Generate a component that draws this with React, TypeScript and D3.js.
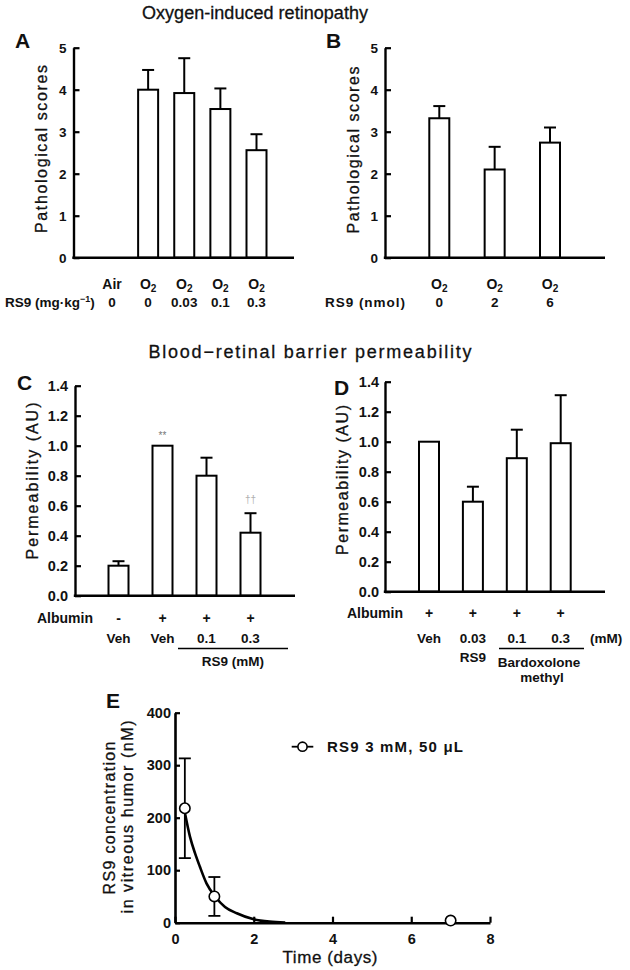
import React, { useEffect, useRef } from "react";
import * as d3 from "d3";

const FONT = "'Liberation Sans', Arial, Helvetica, sans-serif";

// A - oxygen-induced retinopathy, RS9 mg/kg
const aGas = ["Air", "O2", "O2", "O2", "O2"];
const aDose = ["0", "0", "0.03", "0.1", "0.3"];
const aMean: (number | null)[] = [null, 4.0, 3.92, 3.54, 2.56];
const aErr: (number | null)[] = [null, 0.47, 0.83, 0.49, 0.38];

// B - oxygen-induced retinopathy, RS9 nmol
const bGas = ["O2", "O2", "O2"];
const bDose = ["0", "2", "6"];
const bMean = [3.32, 2.1, 2.74];
const bErr = [0.29, 0.54, 0.36];

const scoreTicks = [0, 1, 2, 3, 4, 5];

// C - permeability, RS9
const cAlbumin = ["-", "+", "+", "+"];
const cTreat = ["Veh", "Veh", "0.1", "0.3"];
const cMean = [0.2, 1.0, 0.8, 0.42];
const cErr = [0.03, 0, 0.12, 0.13];
const cMark = ["", "**", "", "††"];

// D - permeability, RS9 vs bardoxolone methyl
const dAlbumin = ["+", "+", "+", "+"];
const dTreat = ["Veh", "0.03", "0.1", "0.3"];
const dMean = [1.0, 0.6, 0.89, 0.99];
const dErr = [0, 0.1, 0.19, 0.32];

const permTicks = [0, 0.2, 0.4, 0.6, 0.8, 1.0, 1.2, 1.4];

// E - vitreous concentration
const eDay = [0.25, 1, 7];
const eConc = [218, 50, 4];
const eSd = [95, 37, 0];
const eFitDay = [0.25, 0.38, 0.51, 0.63, 0.8, 1.02, 1.27, 1.57, 2.0, 2.4, 2.8];
const eFitConc = [210, 164, 132, 107, 75, 50, 30, 18, 6.5, 2, 0.5];
const eTickX = [0, 2, 4, 6, 8];
const eTickY = [0, 100, 200, 300, 400];

type Sel = d3.Selection<SVGGElement, unknown, null, undefined>;

type BarCfg = {
  axisX: number;
  xEnd: number;
  y0: number;
  yTop: number;
  max: number;
  first: number;
  last: number;
  means: (number | null)[];
  errs: (number | null)[];
  ticks: number[];
  fmt: (v: number) => string;
  tickFont: number;
  pad: number;
};

const BAR_W = 20;
const CAP_W = 12;

function barPanel(g: Sel, p: BarCfg) {
  const y = d3.scaleLinear().domain([0, p.max]).range([p.y0, p.yTop]);
  const x = d3
    .scalePoint<number>()
    .domain(d3.range(p.means.length))
    .range([p.first, p.last]);

  p.means.forEach((m, i) => {
    if (m == null) return;
    const cx = x(i)!;
    const e = p.errs[i] ?? 0;
    if (e > 0) {
      g.append("line")
        .attr("x1", cx).attr("x2", cx)
        .attr("y1", y(m)).attr("y2", y(m + e))
        .attr("stroke", "#000").attr("stroke-width", 2);
      g.append("line")
        .attr("x1", cx - CAP_W / 2).attr("x2", cx + CAP_W / 2)
        .attr("y1", y(m + e)).attr("y2", y(m + e))
        .attr("stroke", "#000").attr("stroke-width", 2);
    }
    g.append("rect")
      .attr("x", cx - BAR_W / 2)
      .attr("y", y(m))
      .attr("width", BAR_W)
      .attr("height", p.y0 - y(m))
      .attr("fill", "#fff")
      .attr("stroke", "#000")
      .attr("stroke-width", 2);
  });

  const ax = g
    .append("g")
    .attr("transform", `translate(${p.axisX},0)`)
    .call(
      d3.axisLeft(y)
        .tickValues(p.ticks)
        .tickSize(-6)
        .tickSizeOuter(0)
        .tickPadding(p.pad)
        .tickFormat((d) => p.fmt(d as number))
    );
  ax.attr("font-family", null).attr("font-size", null);
  ax.select(".domain").attr("stroke", "#000").attr("stroke-width", 2.4);
  ax.selectAll(".tick line").attr("stroke", "#000").attr("stroke-width", 2.2);
  ax.selectAll(".tick text")
    .attr("font-size", p.tickFont)
    .attr("font-weight", "bold")
    .attr("fill", "#111");

  g.append("line")
    .attr("x1", p.axisX - 1.2).attr("x2", p.xEnd)
    .attr("y1", p.y0).attr("y2", p.y0)
    .attr("stroke", "#000").attr("stroke-width", 2.4);

  return x;
}

function label(
  g: Sel,
  x: number,
  y: number,
  s: string,
  size: number,
  opts: { anchor?: string; bold?: boolean; fill?: string; len?: number } = {}
) {
  const t = g
    .append("text")
    .attr("x", x)
    .attr("y", y)
    .attr("font-size", size)
    .attr("text-anchor", opts.anchor ?? "middle")
    .attr("font-weight", opts.bold ? "bold" : "normal")
    .attr("fill", opts.fill ?? "#111")
    .text(s);
  if (!opts.bold && !opts.fill) t.attr("stroke", "#111").attr("stroke-width", 0.3);
  if (opts.len) t.attr("textLength", opts.len).attr("lengthAdjust", "spacing");
  return t;
}

function vLabel(g: Sel, cx: number, cy: number, s: string, size: number, len: number) {
  g.append("text")
    .attr("transform", `translate(${cx},${cy}) rotate(-90)`)
    .attr("text-anchor", "middle")
    .attr("dominant-baseline", "central")
    .attr("font-size", size)
    .attr("fill", "#111")
    .attr("stroke", "#111")
    .attr("stroke-width", 0.3)
    .attr("textLength", len)
    .attr("lengthAdjust", "spacing")
    .text(s);
}

function gasLabel(g: Sel, x: number, y: number, s: string, size: number) {
  const t = g
    .append("text")
    .attr("x", x)
    .attr("y", y)
    .attr("font-size", size)
    .attr("font-weight", "bold")
    .attr("text-anchor", "middle")
    .attr("fill", "#111");
  if (s === "O2") {
    t.append("tspan").text("O");
    t.append("tspan").attr("font-size", size * 0.72).attr("dy", 3).text("2");
  } else {
    t.text(s);
  }
}

export default function App() {
  const ref = useRef<SVGSVGElement>(null);

  useEffect(() => {
    const svg = d3.select(ref.current);
    svg.selectAll("*").remove();
    const root = svg.append("g").attr("font-family", FONT) as unknown as Sel;

    // titles
    label(root, 255, 19, "Oxygen-induced retinopathy", 18, { len: 226 });
    label(root, 310, 358, "Blood\u2212retinal barrier permeability", 18, { len: 323 });

    // panel letters
    label(root, 15, 48, "A", 21, { anchor: "start", bold: true });
    label(root, 326, 48, "B", 21, { anchor: "start", bold: true });
    label(root, 17, 390, "C", 21, { anchor: "start", bold: true });
    label(root, 334, 395, "D", 21, { anchor: "start", bold: true });
    label(root, 106, 708, "E", 21, { anchor: "start", bold: true });

    // ---- A
    const xA = barPanel(root, {
      axisX: 73.5, xEnd: 294, y0: 257.7, yTop: 47.7, max: 5,
      first: 112, last: 256.5, means: aMean, errs: aErr,
      ticks: scoreTicks, fmt: (v) => String(v), tickFont: 13.5, pad: 7,
    });
    vLabel(root, 41.5, 149, "Pathological scores", 16, 168);
    aGas.forEach((s, i) => gasLabel(root, xA(i)!, 288.5, s, 14));
    aDose.forEach((s, i) => label(root, xA(i)!, 307, s, 13.5, { bold: true }));
    const rsA = root
      .append("text")
      .attr("x", 5).attr("y", 307)
      .attr("font-size", 13.5).attr("font-weight", "bold").attr("fill", "#111");
    rsA.append("tspan").text("RS9 (mg\u00b7kg");
    rsA.append("tspan").attr("font-size", 9).attr("dy", -5).text("\u22121");
    rsA.append("tspan").attr("dy", 5).text(")");

    // ---- B
    const xB = barPanel(root, {
      axisX: 385, xEnd: 605, y0: 257.7, yTop: 47.7, max: 5,
      first: 439.3, last: 550, means: bMean, errs: bErr,
      ticks: scoreTicks, fmt: (v) => String(v), tickFont: 13.5, pad: 7,
    });
    vLabel(root, 353, 150, "Pathological scores", 16, 167);
    bGas.forEach((s, i) => gasLabel(root, xB(i)!, 288.5, s, 14));
    bDose.forEach((s, i) => label(root, xB(i)!, 307, s, 13.5, { bold: true }));
    label(root, 325, 307, "RS9 (nmol)", 13.5, { anchor: "start", bold: true, len: 80 });

    // ---- C
    const fmt1 = d3.format(".1f");
    const yC = d3.scaleLinear().domain([0, 1.4]).range([595.7, 385.7]);
    const xC = barPanel(root, {
      axisX: 75, xEnd: 295, y0: 595.7, yTop: 385.7, max: 1.4,
      first: 118.5, last: 250.5, means: cMean, errs: cErr,
      ticks: permTicks, fmt: fmt1, tickFont: 14.5, pad: 7,
    });
    vLabel(root, 32, 481, "Permeability (AU)", 16, 157);
    cMark.forEach((s, i) => {
      if (!s) return;
      const top = cMean[i] + cErr[i];
      label(root, xC(i)!, yC(top) - (cErr[i] > 0 ? 10 : 7), s, 10, {
        fill: s === "**" ? "#777" : "#b0b0b0",
      });
    });
    label(root, 93, 623.3, "Albumin", 14, { anchor: "end", bold: true });
    cAlbumin.forEach((s, i) => label(root, xC(i)!, 623.3, s, 14, { bold: true }));
    cTreat.forEach((s, i) => label(root, xC(i)!, 642.7, s, 13.5, { bold: true }));
    root.append("line")
      .attr("x1", 178).attr("x2", 288).attr("y1", 648.5).attr("y2", 648.5)
      .attr("stroke", "#000").attr("stroke-width", 1.6);
    label(root, 233, 666, "RS9 (mM)", 13.5, { bold: true });

    // ---- D
    const xD = barPanel(root, {
      axisX: 385, xEnd: 605, y0: 591.7, yTop: 381.7, max: 1.4,
      first: 429, last: 560.7, means: dMean, errs: dErr,
      ticks: permTicks, fmt: fmt1, tickFont: 14.5, pad: 6,
    });
    vLabel(root, 342, 480, "Permeability (AU)", 16, 150);
    label(root, 403, 618.3, "Albumin", 14, { anchor: "end", bold: true });
    dAlbumin.forEach((s, i) => label(root, xD(i)!, 618.3, s, 14, { bold: true }));
    dTreat.forEach((s, i) => label(root, xD(i)!, 643.3, s, 13.5, { bold: true }));
    label(root, 590, 643.3, "(mM)", 13.5, { anchor: "start", bold: true });
    root.append("line")
      .attr("x1", 499).attr("x2", 584).attr("y1", 648.5).attr("y2", 648.5)
      .attr("stroke", "#000").attr("stroke-width", 1.6);
    label(root, xD(1)!, 662, "RS9", 13.5, { bold: true });
    label(root, 539, 667, "Bardoxolone", 13.5, { bold: true });
    label(root, 542, 682, "methyl", 13.5, { bold: true });

    // ---- E
    const xE = d3.scaleLinear().domain([0, 8]).range([175, 490]);
    const yE = d3.scaleLinear().domain([0, 400]).range([922.7, 712.7]);
    const gE = root.append("g") as unknown as Sel;

    const fitPts = eFitDay.map((d, i) => [d, eFitConc[i]] as [number, number]);
    gE.append("path")
      .attr("d", d3.line<[number, number]>()
        .x((d) => xE(d[0]))
        .y((d) => yE(d[1]))
        .curve(d3.curveMonotoneX)(fitPts))
      .attr("fill", "none")
      .attr("stroke", "#000")
      .attr("stroke-width", 2.6);

    eDay.forEach((d, i) => {
      const cx = xE(d);
      if (eSd[i] > 0) {
        const lo = yE(eConc[i] - eSd[i]);
        const hi = yE(eConc[i] + eSd[i]);
        gE.append("line").attr("x1", cx).attr("x2", cx).attr("y1", lo).attr("y2", hi)
          .attr("stroke", "#000").attr("stroke-width", 1.8);
        [lo, hi].forEach((yy) =>
          gE.append("line")
            .attr("x1", cx - 6).attr("x2", cx + 6).attr("y1", yy).attr("y2", yy)
            .attr("stroke", "#000").attr("stroke-width", 1.8)
        );
      }
    });

    const axY = gE.append("g").attr("transform", "translate(175,0)")
      .call(d3.axisLeft(yE).tickValues(eTickY).tickSize(-5).tickSizeOuter(0).tickPadding(4));
    const axX = gE.append("g").attr("transform", "translate(0,922.7)")
      .call(d3.axisBottom(xE).tickValues(eTickX).tickSize(-6).tickSizeOuter(0).tickPadding(11));
    [axY, axX].forEach((ax) => {
      ax.attr("font-family", null).attr("font-size", null);
      ax.select(".domain").attr("stroke", "#000").attr("stroke-width", 2.6);
      ax.selectAll(".tick line").attr("stroke", "#000").attr("stroke-width", 2.2);
      ax.selectAll(".tick text")
        .attr("font-size", 14.5).attr("font-weight", "bold").attr("fill", "#111");
    });

    eDay.forEach((d, i) => {
      gE.append("circle")
        .attr("cx", xE(d)).attr("cy", yE(eConc[i])).attr("r", 5.2)
        .attr("fill", "#fff").attr("stroke", "#000").attr("stroke-width", 1.6);
    });

    // legend
    gE.append("line").attr("x1", 291.7).attr("x2", 313.3).attr("y1", 746.7).attr("y2", 746.7)
      .attr("stroke", "#000").attr("stroke-width", 1.8);
    gE.append("circle").attr("cx", 302.5).attr("cy", 746.7).attr("r", 4.6)
      .attr("fill", "#fff").attr("stroke", "#000").attr("stroke-width", 1.6);
    label(gE, 327, 752, "RS9 3 mM, 50 \u03bcL", 15, { anchor: "start", bold: true, len: 136 });

    vLabel(gE, 109, 818, "RS9 concentration", 16, 153);
    vLabel(gE, 127, 817, "in vitreous humor (nM)", 16, 193);
    label(gE, 330, 963, "Time (days)", 17, { len: 95 });
  }, []);

  return (
    <svg
      ref={ref}
      width={630}
      height={970}
      style={{ position: "absolute", left: 0, top: 0, background: "#fff" }}
    />
  );
}
